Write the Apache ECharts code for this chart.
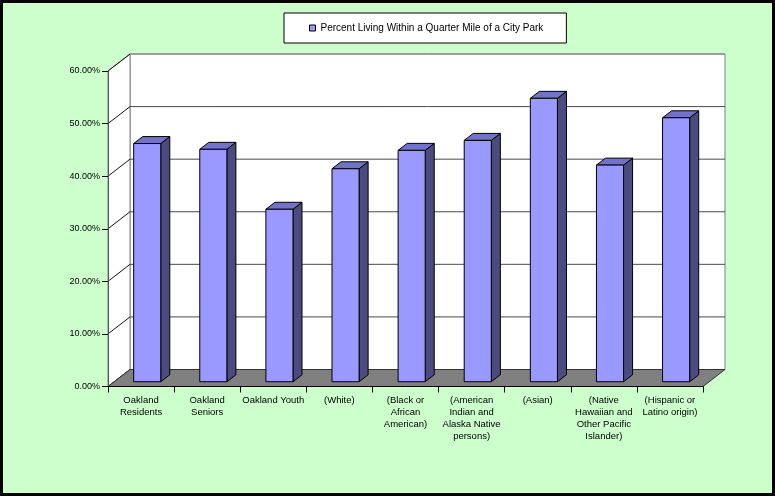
<!DOCTYPE html>
<html>
<head>
<meta charset="utf-8">
<script src="https://cdn.jsdelivr.net/npm/echarts@6/dist/echarts.min.js"></script>
<style>
  html, body { margin: 0; padding: 0; background: #CCFFCC; }
  #chart { width: 775px; height: 496px; }
</style>
</head>
<body>
<div id="chart"></div>
<script>
// Share of each group living within a quarter mile of a city park
const seriesName = 'Percent Living Within a Quarter Mile of a City Park';
const categories = [
  'Oakland\nResidents',
  'Oakland\nSeniors',
  'Oakland Youth',
  '(White)',
  '(Black or\nAfrican\nAmerican)',
  '(American\nIndian and\nAlaska Native\npersons)',
  '(Asian)',
  '(Native\nHawaiian and\nOther Pacific\nIslander)',
  '(Hispanic or\nLatino origin)'
];
const values = [0.453, 0.442, 0.328, 0.405, 0.440, 0.459, 0.539, 0.412, 0.502];
const yTicks = [0, 0.1, 0.2, 0.3, 0.4, 0.5, 0.6];

// 3D projection of the plot box: depth offset of the back wall
const DX = 22, DY = -17;
// bars sit between these depth fractions
const BAR_FRONT = 0.28, BAR_DEPTH = 0.41, BAR_WIDTH = 0.41;

const yMin = yTicks[0], yMax = yTicks[yTicks.length - 1];

function renderWalls(params, api) {
  const cs = params.coordSys;
  const x0 = cs.x, x1 = cs.x + cs.width;
  const yb = api.coord([0, yMin])[1];
  const yt = api.coord([0, yMax])[1];
  const children = [];
  // back wall
  children.push({
    type: 'rect',
    shape: { x: x0 + DX, y: yt + DY, width: x1 - x0, height: yb - yt },
    style: { fill: '#ffffff', stroke: '#808080', lineWidth: 1 }
  });
  // left side wall
  children.push({
    type: 'polygon',
    shape: { points: [[x0, yb], [x0, yt], [x0 + DX, yt + DY], [x0 + DX, yb + DY]] },
    style: { fill: '#ffffff', stroke: '#808080', lineWidth: 1 }
  });
  // gridlines on both walls
  yTicks.forEach(function (v) {
    const y = api.coord([0, v])[1];
    if (v > yMin) {
      children.push({
        type: 'line',
        shape: { x1: x0 + DX, y1: y + DY, x2: x1 + DX, y2: y + DY },
        style: { stroke: v === yMax ? '#808080' : '#4a4a4a', lineWidth: 1 }
      });
    }
    children.push({
      type: 'line',
      shape: { x1: x0, y1: y, x2: x0 + DX, y2: y + DY },
      style: { stroke: '#111111', lineWidth: 1 }
    });
  });
  // floor
  children.push({
    type: 'polygon',
    shape: { points: [[x0, yb], [x1, yb], [x1 + DX, yb + DY], [x0 + DX, yb + DY]] },
    style: { fill: '#808080', stroke: '#333333', lineWidth: 1 }
  });
  return { type: 'group', children: children };
}

function renderBar(params, api) {
  const i = api.value(0);
  const v = api.value(1);
  const top = api.coord([i, v]);
  const base = api.coord([i, yMin]);
  const band = api.size([1, 0])[0];
  const w = band * BAR_WIDTH;
  const ox = DX * BAR_FRONT, oy = DY * BAR_FRONT;
  const dx = DX * BAR_DEPTH, dy = DY * BAR_DEPTH;
  const x = top[0] + ox - w / 2;
  const yT = top[1] + oy;
  const yB = base[1] + oy;
  const line = { stroke: '#000000', lineWidth: 1 };
  return {
    type: 'group',
    children: [
      {
        type: 'polygon',
        shape: { points: [[x + w, yT], [x + w + dx, yT + dy], [x + w + dx, yB + dy], [x + w, yB]] },
        style: Object.assign({ fill: '#4B4B80' }, line)
      },
      {
        type: 'polygon',
        shape: { points: [[x, yT], [x + dx, yT + dy], [x + w + dx, yT + dy], [x + w, yT]] },
        style: Object.assign({ fill: '#7272C8' }, line)
      },
      {
        type: 'rect',
        shape: { x: x, y: yT, width: w, height: yB - yT },
        style: Object.assign({ fill: '#9999FF' }, line)
      }
    ]
  };
}

const font = 'Arial, "Liberation Sans", sans-serif';
const chart = echarts.init(document.getElementById('chart'), null, { renderer: 'canvas' });
chart.setOption({
  animation: false,
  backgroundColor: '#CCFFCC',
  textStyle: { fontFamily: font },
  graphic: [{
    type: 'rect',
    shape: { x: 1.5, y: 1.5, width: 772, height: 493 },
    style: { fill: 'none', stroke: '#000000', lineWidth: 3 },
    z: 100
  }],
  legend: {
    data: [seriesName],
    left: 284,
    top: 13,
    padding: [9, 23, 9, 25],
    backgroundColor: '#ffffff',
    borderColor: '#000000',
    borderWidth: 1,
    borderRadius: 0,
    itemWidth: 6,
    itemHeight: 6,
    icon: 'rect',
    itemStyle: { borderColor: '#000000', borderWidth: 1 },
    textStyle: { fontSize: 10, lineHeight: 12, color: '#000000', fontFamily: font }
  },
  grid: { left: 108, right: 72, top: 71, bottom: 109.5, containLabel: false },
  xAxis: {
    type: 'category',
    data: categories,
    z: 10,
    axisLine: { lineStyle: { color: '#000000' } },
    axisTick: { show: true, length: 6, interval: 0, lineStyle: { color: '#000000' } },
    axisLabel: {
      interval: 0, fontSize: 9.5, lineHeight: 12, margin: 8,
      color: '#000000', fontFamily: font, align: 'center'
    },
    splitLine: { show: false }
  },
  yAxis: {
    type: 'value',
    min: yMin,
    max: yMax,
    interval: 0.1,
    z: 10,
    axisLine: { show: true, lineStyle: { color: '#555555' } },
    axisTick: { show: true, length: 6, lineStyle: { color: '#000000' } },
    axisLabel: {
      fontSize: 9, margin: 8, color: '#000000', fontFamily: font,
      formatter: function (v) { return (v * 100).toFixed(2) + '%'; }
    },
    splitLine: { show: false }
  },
  series: [
    {
      type: 'custom',
      name: 'walls',
      silent: true,
      z: 1,
      renderItem: renderWalls,
      data: [[0, 0]]
    },
    {
      type: 'custom',
      name: seriesName,
      z: 2,
      itemStyle: { color: '#9999FF' },
      renderItem: renderBar,
      encode: { x: 0, y: 1 },
      data: values.map(function (v, i) { return [i, v]; })
    }
  ]
});
</script>
</body>
</html>
